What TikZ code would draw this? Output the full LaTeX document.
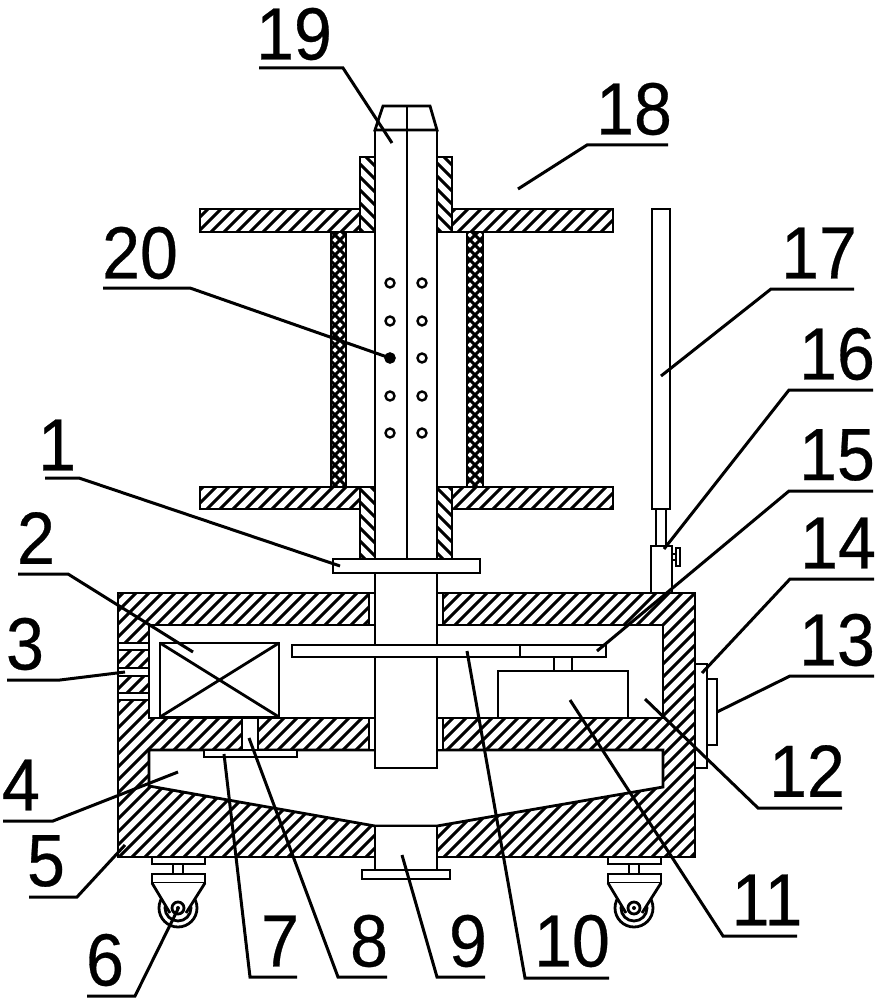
\documentclass[tikz,border=0pt]{standalone}
\usepackage{fontspec}
\setmainfont[FakeStretch=0.92,FakeBold=0.4]{Liberation Sans}
\newcommand{\hatcharea}[2]% outline, slant (1 = /, -1 = \)
{\fill[white] #1;
	\begin{scope}
	\clip #1;
	\foreach \s in {-1000,-987,...,1900}{\draw[hatchline] (\s,0) -- ++({-#2*1000},1000);}
	\end{scope}
	\draw[part,fill=none] #1;
}
\newcommand{\crossarea}[1]% outline
{\fill[white] #1;
	\begin{scope}
	\clip #1;
	\foreach \s in {-1000,-990,...,1900}{
		\draw[hatchline] (\s,0) -- ++(-1000,1000);
		\draw[hatchline] (\s,0) -- ++(1000,1000);
	}
	\end{scope}
	\draw[part,fill=none] #1;
}
\newcommand{\callout}[5]% number, text centre, line start, elbow, tip
{\node[num] (n#1) at (#2){#1};
	\coordinate (u#1) at (#3);
	\coordinate (e#1) at (#4);
	\coordinate (p#1) at (#5);
	\draw[lead] (u#1) -- (e#1) -- (p#1);
}
\tikzset{
	part/.style={draw=black,fill=white,line width=2.8pt,line join=miter},
	hatchline/.style={black,line width=3pt},
	lead/.style={black,line width=3pt},
	num/.style={inner sep=0pt,font=\fontsize{74}{74}\selectfont}
}

\begin{document}
\begin{tikzpicture}[x=1pt,y=-1pt]
	\useasboundingbox (0,0) rectangle (878,1000);
	% housing
	\hatcharea{(118,593) rectangle (695,857)}{1}
	\draw[part] (149,625) rectangle (663,718);
	\draw[part] (149,750) -- (663,750) -- (663,787) -- (437,826) -- (375,826) -- (149,786) -- cycle;
	\draw[part] (118,643) rectangle (149,650);
	\draw[part] (118,668) rectangle (149,676);
	\draw[part] (118,693) rectangle (149,700);
	\draw[part] (369,593) rectangle (375,625);
	\draw[part] (437,593) rectangle (443,625);
	\draw[part] (369,718) rectangle (375,750);
	\draw[part] (437,718) rectangle (443,750);
	% fan and its duct
	\draw[part] (160,643) rectangle (279,717);
	\draw[part,fill=none] (160,643) -- (279,717);
	\draw[part,fill=none] (160,717) -- (279,643);
	\draw[part] (242,718) rectangle (258,750);
	\draw[part] (204,750) rectangle (297,757);
	% outlet
	\draw[part] (375,826) rectangle (437,870);
	\draw[part] (362,870) rectangle (450,879);
	% shaft, plate, motor
	\draw[part] (375,573) rectangle (437,768);
	\draw[part] (292,645) rectangle (606,657);
	\draw[part] (520,645) -- (520,657);
	\draw[part] (554,657) rectangle (572,671);
	\draw[part] (498,671) rectangle (628,718);
	% side plates
	\draw[part] (695,664) rectangle (707,768);
	\draw[part] (707,679) rectangle (717,745);
	% handle
	\draw[part] (652,209) rectangle (670,509);
	\draw[part] (656,509) rectangle (666,546);
	\draw[part] (651,546) rectangle (672,593);
	\draw[part] (672,554) rectangle (676,560);
	\draw[part] (676,548) rectangle (680,566);
	% spool
	\crossarea{(331,232) rectangle (346,487)}
	\crossarea{(467,232) rectangle (483,487)}
	\hatcharea{(200,209) rectangle (613,232)}{1}
	\hatcharea{(200,487) rectangle (613,509)}{1}
	\hatcharea{(360,157) rectangle (375,232)}{-1}
	\hatcharea{(437,157) rectangle (452,232)}{-1}
	\hatcharea{(360,487) rectangle (375,559)}{-1}
	\hatcharea{(437,487) rectangle (452,559)}{-1}
	% pipe 19
	\draw[part] (375,130) rectangle (437,559);
	\draw[part] (375,130) -- (383,106) -- (430,106) -- (437,130) -- cycle;
	\draw[part] (407,106) -- (407,559);
	\foreach \y in {283,321,358,396,433}{
		\draw[black,line width=2.4pt] (390,\y) circle (4.5);
		\draw[black,line width=2.4pt] (422,\y) circle (4.5);
	}
	\fill[black] (390,358) circle (5.5);
	\draw[part] (333,559) rectangle (480,573);
	% casters
	\foreach \cx in {178,634}{
		\draw[part] (\cx-26,857) rectangle (\cx+27,864);
		\draw[part] (\cx-5,864) rectangle (\cx+5,874);
		\draw[part] (\cx,908) circle (19);
		\draw[part] (\cx,908) circle (13);
		\draw[part] (\cx-26,874) rectangle (\cx+27,883);
		\fill[white] (\cx-26,883) -- (\cx-8,913) -- (\cx+8,913) -- (\cx+27,883) -- cycle;
		\draw[part,fill=none] (\cx-26,883) -- (\cx-8,913);
		\draw[part,fill=none] (\cx+27,883) -- (\cx+8,913);
		\draw[part] (\cx,908) circle (6);
		\fill[black] (\cx,908) circle (2);
	}
	% numbers
	\callout{1}{57,445}{45,478}{79,478}{340,566}
	\callout{2}{36,538}{18,574}{68,574}{193,652}
	\callout{3}{25,644}{7,680}{60,680}{125,672}
	\callout{4}{21,785}{3,821}{53,821}{178,772}
	\callout{5}{46,861}{29,897}{77,897}{125,845}
	\callout{6}{105,960}{87,996}{135,996}{178,909}
	\callout{7}{280,941}{297,977}{250,977}{224,754}
	\callout{8}{369,941}{387,977}{338,977}{249,738}
	\callout{9}{468,941}{485,977}{437,977}{402,855}
	\callout{10}{572,941}{609,978}{525,978}{467,651}
	\callout{11}{767,900}{797,936}{723,936}{570,700}
	\callout{12}{807,771}{842,808}{758,808}{645,699}
	\callout{13}{837,640}{874,676}{790,676}{717,712}
	\callout{14}{838,543}{874,579}{790,579}{702,673}
	\callout{15}{837,455}{873,491}{789,491}{597,651}
	\callout{16}{837,354}{873,390}{789,390}{664,549}
	\callout{17}{819,253}{854,289}{771,289}{661,376}
	\callout{18}{634,109}{668,145}{587,145}{518,189}
	\callout{19}{294,34}{259,68}{343,68}{392,143}
	\callout{20}{140,253}{103,288}{190,288}{390,358}
\end{tikzpicture}
\end{document}
